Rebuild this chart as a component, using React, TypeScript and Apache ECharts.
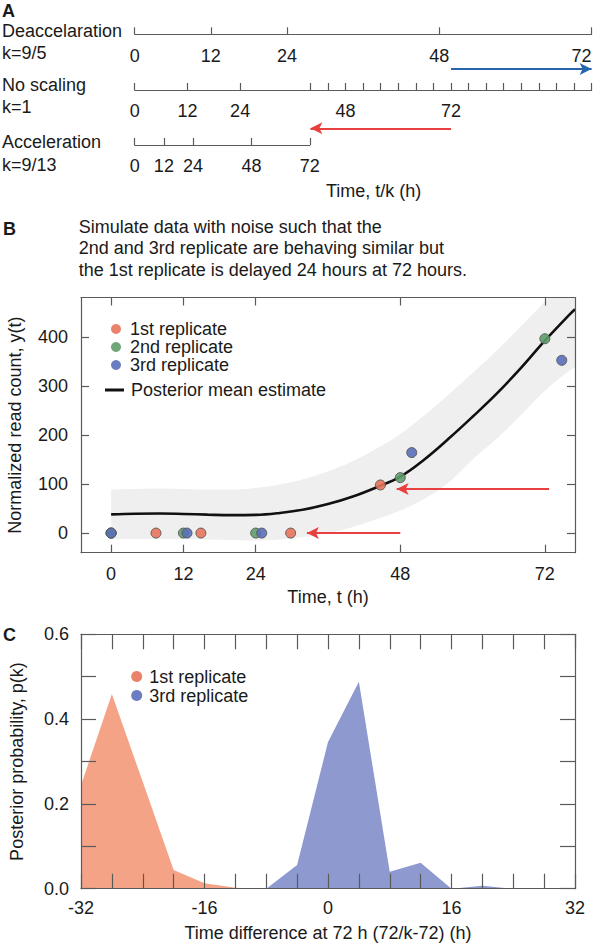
import React, { useEffect, useRef } from "react";
import * as echarts from "echarts";

const FONT = '"Liberation Sans", Arial, Helvetica, sans-serif';
const TXT = "#1a1a1a";
const AX = "#5a5a5a";
const ORANGE = "#E8735A";
const GREEN = "#5F9C6B";
const BLUE = "#5A6FBA";
const RED = "#E8403F";
const ARROW_BLUE = "#2565AE";

// ---------- Panel A : time scales ----------
const deaccTicks = [0, 12, 24, 48, 72];
const noScaleTicks = [0, 12, 24, 40, 44, 48, 52, 56, 60, 64, 68, 72, 76, 80, 84, 88, 92, 96, 100, 104];
const noScaleLabels = [0, 12, 24, 48, 72];
const accelTicks = [0, 12, 24, 48, 72];
const arrowBlueA = [72, 104];
const arrowRedA = [72, 40];

// ---------- Panel B : replicates ----------
const rep1T = [0, 7.45, 14.9, 29.8, 44.7];
const rep1Y = [0, 0, 0, 0, 98];
const rep2T = [0, 12, 24, 48, 72];
const rep2Y = [0, 0, 0, 113, 396];
const rep3T = [0, 12.6, 25, 49.9, 74.8];
const rep3Y = [0, 0, 0, 164, 352];
const curveT = [0, 4, 8, 12, 16, 20, 24, 28, 32, 36, 40, 44, 48, 52, 56, 60, 64, 68, 72, 76, 77];
const curveMean = [38, 39.5, 40, 39, 37.5, 36.5, 37, 41, 48, 59, 74, 93, 115, 150, 192, 237, 284, 336, 392, 444, 456];
const bandUpper = [89, 90, 91, 90, 89, 89, 92, 99, 110, 126, 146, 172, 202, 240, 282, 326, 372, 421, 472, 525, 538];
const bandLower = [-13, -12, -12, -12, -13, -14, -15, -13, -8, 0, 12, 28, 46, 70, 103, 150, 192, 240, 290, 330, 338];
const arrowB1 = [[72.7, 89.6], [47.4, 89.6]];
const arrowB2 = [[48, 0], [32.5, 0]];
const bTicksX = [0, 12, 24, 48, 72];
const bTicksY = [0, 100, 200, 300, 400];

// ---------- Panel C : posterior of time difference ----------
const diffX = [-32, -28, -24, -20, -16, -12, -8, -4, 0, 4, 8, 12, 16, 20, 24, 28, 32];
const rep1Prob = [0.244, 0.459, 0.252, 0.044, 0.013, 0.002, 0, 0, 0, 0, 0, 0, 0, 0, 0, 0, 0];
const rep3Prob = [0, 0, 0, 0, 0, 0, 0, 0.056, 0.346, 0.488, 0.04, 0.061, 0, 0.007, 0, 0, 0];
const cTicksX = [-32, -28, -24, -20, -16, -12, -8, -4, 0, 4, 8, 12, 16, 20, 24, 28, 32];
const cTicksY = [0, 0.1, 0.2, 0.3, 0.4, 0.5, 0.6];
const cLabelsX = [-32, -16, 0, 16, 32];
const cLabelsY = [0, 0.2, 0.4, 0.6];

const textStyle = { fontSize: 18, fontFamily: FONT, color: TXT };

function scaleAxis(gridIndex: number, max: number, ticks: number[], labels: number[], margin: number, alignMax?: string) {
  return {
    type: "value",
    gridIndex,
    min: 0,
    max,
    position: "bottom",
    axisLine: { show: true, onZero: false, lineStyle: { color: AX, width: 1.2 } },
    axisTick: { show: true, inside: true, length: 7, customValues: ticks, lineStyle: { color: AX, width: 1.2 } },
    axisLabel: { show: true, customValues: labels, margin, ...textStyle, alignMaxLabel: alignMax },
    splitLine: { show: false },
  };
}

function hidden(gridIndex: number, min = 0, max = 1, inverse = false) {
  return { type: "value", gridIndex, min, max, inverse, show: false };
}

// A thin "rail" grid carries one side of a panel frame, with ticks pointing into the panel
function rail(gridIndex: number, min: number, max: number, position: string, length: number, ticks: number[], labels: any = null) {
  return {
    type: "value",
    gridIndex,
    min,
    max,
    position,
    z: 10,
    axisLine: { show: true, onZero: false, lineStyle: { color: AX, width: 1.2 } },
    axisTick: { show: true, inside: true, length, customValues: ticks, lineStyle: { color: AX, width: 1.2 } },
    axisLabel: labels ? { show: true, ...textStyle, ...labels } : { show: true, customValues: ticks, formatter: () => "" },
    splitLine: { show: false },
  };
}

function arrowMark(color: string, lines: number[][][]) {
  return {
    silent: true,
    symbol: ["none", "arrow"],
    symbolSize: [9, 12],
    label: { show: false },
    emphasis: { disabled: true },
    lineStyle: { color, width: 1.8, type: "solid" },
    data: lines.map((l) => [{ coord: l[0] }, { coord: l[1] }]),
  };
}

function gtext(text: string, x: number, y: number, bold = false) {
  return {
    type: "text",
    x,
    y,
    silent: true,
    style: {
      text,
      fontSize: 18,
      fontFamily: FONT,
      fontWeight: bold ? "bold" : "normal",
      fill: TXT,
      align: "left",
      verticalAlign: "middle",
    },
  };
}

// panel geometry
const B = { left: 81, top: 297.5, width: 494, height: 255.2 };
const C = { left: 81, top: 634.3, width: 494, height: 254.4 };
const railsOf = (p: any) => [
  { left: p.left, top: p.top + p.height - 1, width: p.width, height: 1 }, // bottom
  { left: p.left, top: p.top, width: p.width, height: 1 }, // top
  { left: p.left, top: p.top, width: 1, height: p.height }, // left
  { left: p.left + p.width - 1, top: p.top, width: 1, height: p.height }, // right
];

const option: any = {
  animation: false,
  backgroundColor: "#ffffff",
  grid: [
    { left: 134.7, top: 33.3, width: 456.9, height: 1 },
    { left: 134.7, top: 89, width: 456.9, height: 1 },
    { left: 134.7, top: 144, width: 175.1, height: 1 },
    { left: 134.7, top: 0, width: 456.9, height: 200 },
    B, // 4
    C, // 5
    ...railsOf(B), // 6..9
    ...railsOf(C), // 10..13
  ],
  xAxis: [
    scaleAxis(0, 72, deaccTicks, deaccTicks, 12.5, "right"),
    scaleAxis(1, 104, noScaleTicks, noScaleLabels, 12),
    scaleAxis(2, 72, accelTicks, accelTicks, 11.5),
    hidden(3, 0, 104),
    hidden(4, -5, 77),
    hidden(5, -32, 32),
    {
      ...rail(6, -5, 77, "bottom", 8, bTicksX, { customValues: bTicksX, margin: 12 }),
      name: "Time, t (h)",
      nameLocation: "middle",
      nameGap: 35,
      nameTextStyle: textStyle,
    },
    rail(7, -5, 77, "top", 8, bTicksX),
    hidden(8),
    hidden(9),
    {
      ...rail(10, -32, 32, "bottom", 15, cTicksX, { customValues: cLabelsX, margin: 10 }),
      name: "Time difference at 72 h (72/k-72) (h)",
      nameLocation: "middle",
      nameGap: 35,
      nameTextStyle: textStyle,
    },
    rail(11, -32, 32, "top", 15, cTicksX),
    hidden(12),
    hidden(13),
  ],
  yAxis: [
    hidden(0),
    hidden(1),
    hidden(2),
    hidden(3, 0, 200, true),
    hidden(4, -40, 480),
    hidden(5, 0, 0.6),
    hidden(6),
    hidden(7),
    {
      ...rail(8, -40, 480, "left", 8, bTicksY, { customValues: bTicksY, margin: 13 }),
      name: "Normalized read count, y(t)",
      nameLocation: "middle",
      nameGap: 57,
      nameTextStyle: textStyle,
    },
    rail(9, -40, 480, "right", 8, bTicksY),
    hidden(10),
    hidden(11),
    {
      ...rail(12, 0, 0.6, "left", 15, cTicksY, {
        customValues: cLabelsY,
        margin: 12,
        formatter: (v: number) => v.toFixed(1),
      }),
      name: "Posterior probability, p(k)",
      nameLocation: "middle",
      nameGap: 55,
      nameTextStyle: textStyle,
    },
    rail(13, 0, 0.6, "right", 15, cTicksY),
  ],
  legend: [
    {
      orient: "vertical",
      left: 106,
      top: 315,
      itemWidth: 10,
      itemHeight: 10,
      itemGap: 0,
      icon: "circle",
      selectedMode: false,
      itemStyle: { borderWidth: 0 },
      textStyle: { ...textStyle, lineHeight: 16, padding: [0, 0, 0, 4] },
      data: ["1st replicate", "2nd replicate", "3rd replicate"],
    },
    {
      orient: "vertical",
      left: 100,
      top: 376,
      itemWidth: 19,
      itemHeight: 3,
      itemGap: 0,
      selectedMode: false,
      textStyle: { ...textStyle, lineHeight: 18, padding: [0, 0, 0, 2] },
      data: [{ name: "Posterior mean estimate", icon: "rect" }],
    },
    {
      orient: "vertical",
      left: 126.2,
      top: 662,
      itemWidth: 11,
      itemHeight: 11,
      itemGap: 0,
      icon: "circle",
      selectedMode: false,
      itemStyle: { borderWidth: 0 },
      textStyle: { ...textStyle, lineHeight: 19, padding: [0, 0, 0, 2] },
      data: ["1st replicate", "3rd replicate"],
    },
  ],
  series: [
    // Panel A arrows
    {
      type: "line",
      xAxisIndex: 3,
      yAxisIndex: 3,
      data: [],
      silent: true,
      markLine: arrowMark(ARROW_BLUE, [[[arrowBlueA[0], 69], [arrowBlueA[1], 69]]]),
    },
    {
      type: "line",
      xAxisIndex: 3,
      yAxisIndex: 3,
      data: [],
      silent: true,
      markLine: arrowMark(RED, [[[arrowRedA[0], 128.3], [arrowRedA[1], 128.3]]]),
    },
    // Panel B band: grey up to the upper bound, white up to the lower bound
    {
      type: "line",
      xAxisIndex: 4,
      yAxisIndex: 4,
      data: curveT.map((t, i) => [t, bandUpper[i]]),
      symbol: "none",
      smooth: 0.4,
      silent: true,
      lineStyle: { width: 0, opacity: 0 },
      areaStyle: { color: "#EFEFEF", opacity: 1, origin: "start" },
      z: 1,
    },
    {
      type: "line",
      xAxisIndex: 4,
      yAxisIndex: 4,
      data: curveT.map((t, i) => [t, bandLower[i]]),
      symbol: "none",
      smooth: 0.4,
      silent: true,
      lineStyle: { width: 0, opacity: 0 },
      areaStyle: { color: "#ffffff", opacity: 1, origin: "start" },
      z: 1,
    },
    {
      name: "Posterior mean estimate",
      type: "line",
      xAxisIndex: 4,
      yAxisIndex: 4,
      data: curveT.map((t, i) => [t, curveMean[i]]),
      symbol: "none",
      smooth: 0.4,
      silent: true,
      lineStyle: { color: "#111111", width: 2.6 },
      itemStyle: { color: "#111111" },
      z: 3,
    },
    {
      type: "line",
      xAxisIndex: 4,
      yAxisIndex: 4,
      data: [],
      silent: true,
      z: 4,
      markLine: arrowMark(RED, [arrowB1, arrowB2]),
    },
    {
      name: "1st replicate",
      type: "scatter",
      xAxisIndex: 4,
      yAxisIndex: 4,
      data: rep1T.map((t, i) => [t, rep1Y[i]]),
      symbolSize: 10,
      itemStyle: { color: ORANGE, borderColor: "#555", borderWidth: 1, opacity: 0.9 },
      z: 5,
    },
    {
      name: "2nd replicate",
      type: "scatter",
      xAxisIndex: 4,
      yAxisIndex: 4,
      data: rep2T.map((t, i) => [t, rep2Y[i]]),
      symbolSize: 10,
      itemStyle: { color: GREEN, borderColor: "#555", borderWidth: 1, opacity: 0.9 },
      z: 5,
    },
    {
      name: "3rd replicate",
      type: "scatter",
      xAxisIndex: 4,
      yAxisIndex: 4,
      data: rep3T.map((t, i) => [t, rep3Y[i]]),
      symbolSize: 10,
      itemStyle: { color: BLUE, borderColor: "#555", borderWidth: 1, opacity: 0.9 },
      z: 5,
    },
    // Panel C
    {
      name: "1st replicate",
      type: "line",
      xAxisIndex: 5,
      yAxisIndex: 5,
      data: diffX.map((x, i) => [x, rep1Prob[i]]),
      symbol: "none",
      silent: true,
      lineStyle: { width: 0 },
      itemStyle: { color: ORANGE },
      areaStyle: { color: "#F4A387", opacity: 1 },
      z: 2,
    },
    {
      name: "3rd replicate",
      type: "line",
      xAxisIndex: 5,
      yAxisIndex: 5,
      data: diffX.map((x, i) => [x, rep3Prob[i]]),
      symbol: "none",
      silent: true,
      lineStyle: { width: 0 },
      itemStyle: { color: BLUE },
      areaStyle: { color: "#8E9ACF", opacity: 1 },
      z: 2,
    },
  ],
  graphic: [
    gtext("A", 2, 11, true),
    gtext("Deaccelaration", 2, 31.3),
    gtext("k=9/5", 2, 53.3),
    gtext("No scaling", 2, 85),
    gtext("k=1", 2, 106.7),
    gtext("Acceleration", 2, 141.7),
    gtext("k=9/13", 2, 164.5),
    gtext("Time, t/k (h)", 326, 191),
    gtext("B", 3, 229, true),
    gtext("Simulate data with noise such that the", 78.7, 226.5),
    gtext("2nd and 3rd replicate are behaving similar but", 78.7, 248),
    gtext("the 1st replicate is delayed 24 hours at 72 hours.", 78.7, 269.5),
    gtext("C", 3, 635, true),
  ],
};

export default function App() {
  const ref = useRef<HTMLDivElement>(null);
  useEffect(() => {
    if (!ref.current) return;
    const chart = echarts.init(ref.current, null, { renderer: "svg" });
    chart.setOption(option);
    return () => chart.dispose();
  }, []);
  return <div ref={ref} style={{ position: "absolute", left: 0, top: 0, width: 602, height: 945 }} />;
}
